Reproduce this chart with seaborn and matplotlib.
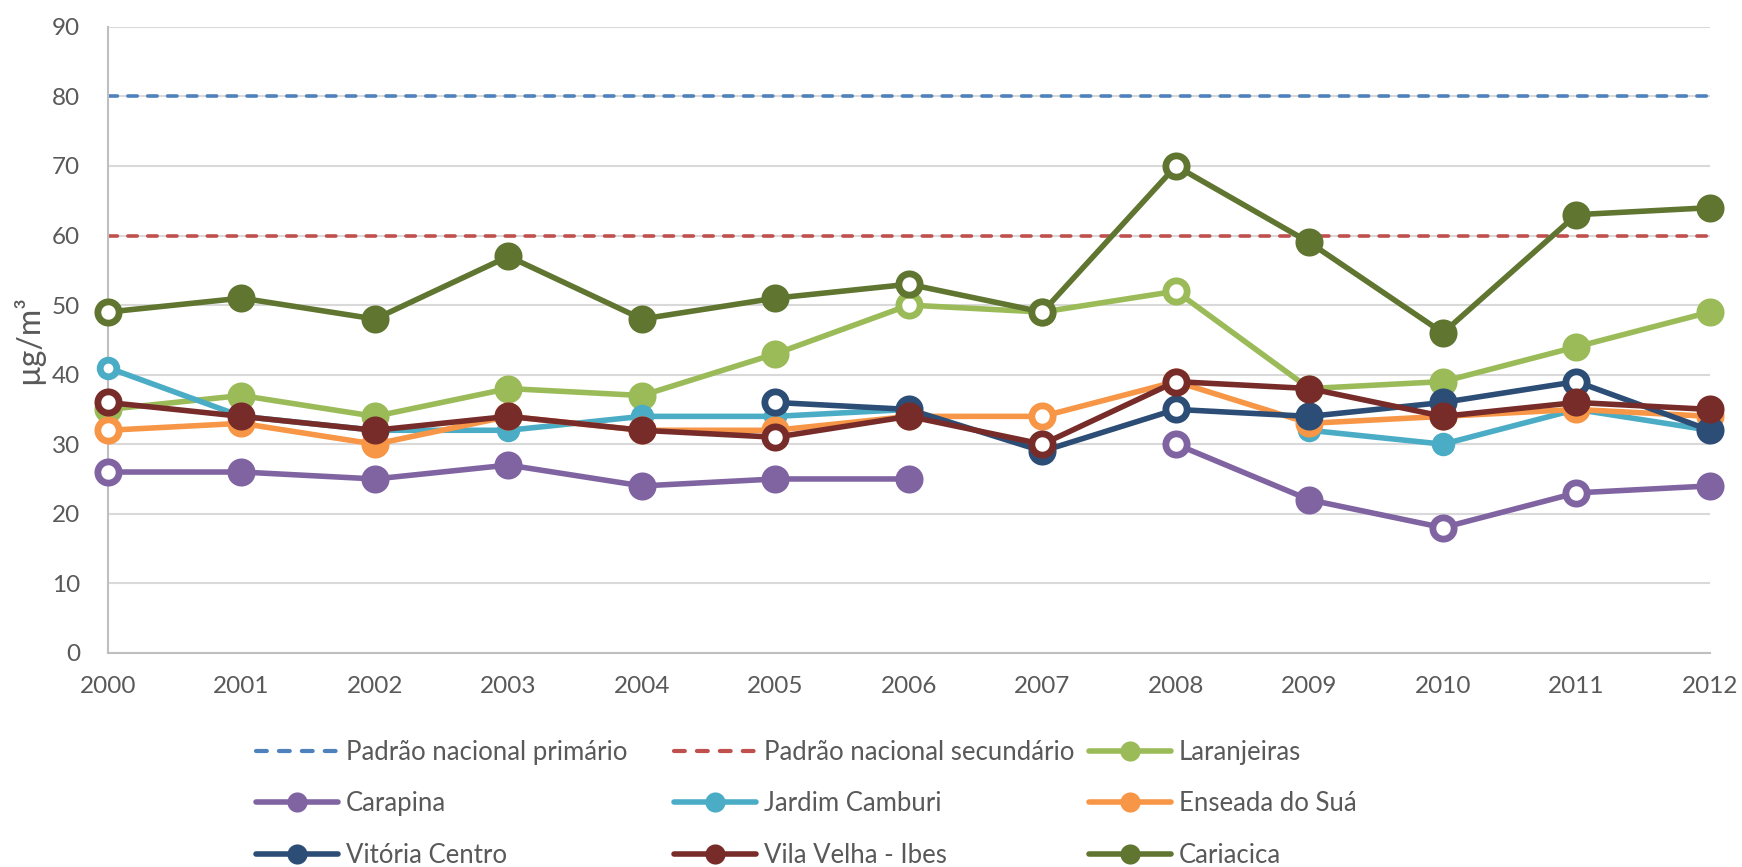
import numpy as np
import pandas as pd
import matplotlib
matplotlib.use("Agg")
import matplotlib.pyplot as plt
from matplotlib.lines import Line2D
import seaborn as sns

nan = np.nan

# anos da série
anos = [2000, 2001, 2002, 2003, 2004, 2005, 2006, 2007, 2008, 2009, 2010, 2011, 2012]
y_ticks = [0, 10, 20, 30, 40, 50, 60, 70, 80, 90]

# padrões nacionais (µg/m³)
padrao_primario = [80, 80, 80, 80, 80, 80, 80, 80, 80, 80, 80, 80, 80]
padrao_secundario = [60, 60, 60, 60, 60, 60, 60, 60, 60, 60, 60, 60, 60]

# médias anuais por estação
laranjeiras = [35, 37, 34, 38, 37, 43, 50, 49, 52, 38, 39, 44, 49]
carapina = [26, 26, 25, 27, 24, 25, 25, nan, 30, 22, 18, 23, 24]
jardim_camburi = [41, 34, 32, 32, 34, 34, 35, nan, nan, 32, 30, 35, 32]
enseada_do_sua = [32, 33, 30, 34, 32, 32, 34, 34, 39, 33, 34, 35, 34]
vitoria_centro = [nan, nan, nan, nan, nan, 36, 35, 29, 35, 34, 36, 39, 32]
vila_velha_ibes = [36, 34, 32, 34, 32, 31, 34, 30, 39, 38, 34, 36, 35]
cariacica = [49, 51, 48, 57, 48, 51, 53, 49, 70, 59, 46, 63, 64]

# anos com marcador vazado (dados incompletos)
laranjeiras_vazado = [2006, 2007, 2008]
carapina_vazado = [2000, 2008, 2010, 2011]
jardim_camburi_vazado = [2000]
enseada_do_sua_vazado = [2000, 2007]
vitoria_centro_vazado = [2005, 2008, 2011]
vila_velha_ibes_vazado = [2000, 2005, 2007, 2008]
cariacica_vazado = [2000, 2006, 2007, 2008]

estacoes = [
    ("Laranjeiras", laranjeiras, laranjeiras_vazado, "#9BBB59"),
    ("Carapina", carapina, carapina_vazado, "#8064A2"),
    ("Jardim Camburi", jardim_camburi, jardim_camburi_vazado, "#4BACC6"),
    ("Enseada do Suá", enseada_do_sua, enseada_do_sua_vazado, "#F79646"),
    ("Vitória Centro", vitoria_centro, vitoria_centro_vazado, "#2C4D75"),
    ("Vila Velha - Ibes", vila_velha_ibes, vila_velha_ibes_vazado, "#772C2A"),
    ("Cariacica", cariacica, cariacica_vazado, "#5F7530"),
]
# tamanho do marcador (pt) por estação
tam_marcador = {"Jardim Camburi": 12.0}

sns.set_theme(style="white")
plt.rcParams["font.family"] = ["Lato", "DejaVu Sans"]

fig, ax = plt.subplots(figsize=(17.42, 8.67), dpi=100)
fig.subplots_adjust(left=0.062, right=0.9816, bottom=0.247, top=0.969)

cinza = "#595959"
fs = 17.5
fs_leg = 18.5
lw = 4.0
ms = 15.3
mew = 4.9
lw_pad = 2.6
tracejado = (0, (2.6, 2.9))

# linhas dos padrões
sns.lineplot(x=anos, y=padrao_primario, color="#4F81BD", lw=lw_pad, linestyle=tracejado,
             dash_capstyle="round", ax=ax, legend=False, zorder=2)
sns.lineplot(x=anos, y=padrao_secundario, color="#C0504D", lw=lw_pad, linestyle=tracejado,
             dash_capstyle="round", ax=ax, legend=False, zorder=2)

for i, (nome, valores, vazados, cor) in enumerate(estacoes):
    df = pd.DataFrame({"ano": anos, "valor": valores})
    df["trecho"] = df["valor"].isna().cumsum()
    df = df.dropna()
    df["vazado"] = df["ano"].isin(vazados)
    z = 3 + 2 * i
    m = tam_marcador.get(nome, ms)
    sns.lineplot(data=df, x="ano", y="valor", units="trecho", estimator=None,
                 color=cor, lw=lw, ax=ax, legend=False, zorder=z, clip_on=False)
    cheios = df[~df["vazado"]]
    ocos = df[df["vazado"]]
    sns.scatterplot(data=cheios, x="ano", y="valor", color=cor, edgecolor=cor,
                    s=m ** 2, linewidth=mew, ax=ax, legend=False, zorder=z + 1, clip_on=False)
    sns.scatterplot(data=ocos, x="ano", y="valor", color="white", edgecolor=cor,
                    s=m ** 2, linewidth=mew, ax=ax, legend=False, zorder=z + 1, clip_on=False)

ax.set_xlim(2000, 2012)
ax.set_ylim(0, 90)
ax.set_xticks(anos)
ax.set_xticklabels([str(a) for a in anos])
ax.set_yticks(y_ticks)
ax.tick_params(axis="both", length=0, labelsize=fs, colors=cinza)
ax.tick_params(axis="y", pad=20)
ax.tick_params(axis="x", pad=17)
ax.yaxis.grid(True, color="#D9D9D9", lw=1.5, zorder=0)
ax.xaxis.grid(False)
ax.set_axisbelow(True)
for lado in ["top", "right"]:
    ax.spines[lado].set_visible(False)
for lado in ["left", "bottom"]:
    ax.spines[lado].set_color("#BFBFBF")
    ax.spines[lado].set_linewidth(1.5)

ax.set_xlabel("")
ax.set_ylabel("µg/m³", fontsize=23, color=cinza)
ax.yaxis.set_label_coords(-0.040, 0.5)

# legenda em 3 colunas, preenchida por linha (uma legenda por coluna)
h_prim = Line2D([0], [0], color="#4F81BD", lw=3.0, linestyle=tracejado, dash_capstyle="round")
h_sec = Line2D([0], [0], color="#C0504D", lw=3.0, linestyle=tracejado, dash_capstyle="round")
h_est = [Line2D([0], [0], color=c, lw=lw, marker="o", ms=14.5, mfc=c, mec=c, mew=0,
                solid_capstyle="round")
         for _, _, _, c in estacoes]
rot_est = [e[0] for e in estacoes]
colunas = [
    ([h_prim, h_est[1], h_est[4]], ["Padrão nacional primário", rot_est[1], rot_est[4]], 0.147),
    ([h_sec, h_est[2], h_est[5]], ["Padrão nacional secundário", rot_est[2], rot_est[5]], 0.387),
    ([h_est[0], h_est[3], h_est[6]], [rot_est[0], rot_est[3], rot_est[6]], 0.625),
]
for hs, ls, x0 in colunas:
    fig.legend(hs, ls, ncol=1, loc="upper left", bbox_to_anchor=(x0, 0.147),
               frameon=False, fontsize=fs_leg, handlelength=3.2, handletextpad=0.3,
               labelspacing=1.04, borderpad=0, borderaxespad=0, labelcolor=cinza)

fig.savefig("out.png", dpi=100)
